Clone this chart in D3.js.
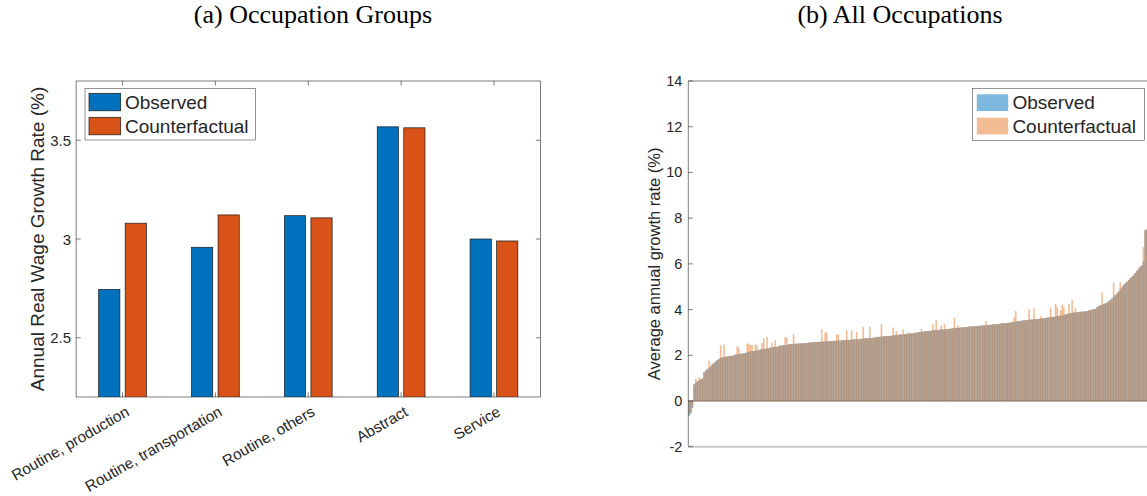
<!DOCTYPE html>
<html><head><meta charset="utf-8">
<script src="https://cdn.jsdelivr.net/npm/d3@7"></script>
<style>
body{margin:0;background:#fff}
svg{display:block}
text{font-family:"Liberation Sans",Arial,Helvetica,sans-serif;fill:#262626}
.ttl{font-family:"Liberation Serif","Times New Roman",serif;fill:#000}
</style>
</head><body><svg id="c" width="1147" height="496"></svg>
<script>
// ---------- data: panel (a) ----------
const groupCategories = ["Routine, production","Routine, transportation","Routine, others","Abstract","Service"];
const groupObserved = [2.745, 2.958, 3.118, 3.568, 3.0];
const groupCounterfactual = [3.08, 3.122, 3.107, 3.563, 2.99];
const groupYTicks = [2.5, 3, 3.5];
const groupYTickLabels = ["2.5", "3", "3.5"];
const seriesNames = ["Observed", "Counterfactual"];

// ---------- data: panel (b), occupations sorted by observed growth ----------
const occObserved = [
-0.65,-0.55,-0.3,0.72,0.78,0.85,0.9,0.95,0.98,1.26,
1.32,1.38,1.44,1.52,1.6,1.66,1.72,1.78,1.84,1.88,
1.9,1.92,1.93,1.94,1.95,1.96,1.97,1.99,2.02,2.04,
2.05,2.06,2.07,2.08,2.1,2.12,2.14,2.16,2.17,2.18,
2.19,2.2,2.21,2.25,2.26,2.27,2.28,2.29,2.3,2.33,
2.34,2.35,2.36,2.37,2.38,2.41,2.42,2.43,2.44,2.45,
2.46,2.48,2.49,2.49,2.5,2.5,2.51,2.51,2.52,2.52,
2.53,2.53,2.54,2.55,2.56,2.56,2.57,2.57,2.58,2.58,
2.59,2.59,2.6,2.6,2.61,2.61,2.62,2.62,2.63,2.63,
2.64,2.64,2.65,2.65,2.66,2.66,2.67,2.67,2.68,2.68,
2.69,2.69,2.7,2.7,2.72,2.73,2.73,2.74,2.74,2.75,
2.75,2.76,2.77,2.78,2.8,2.8,2.81,2.82,2.82,2.83,
2.84,2.84,2.85,2.86,2.88,2.88,2.89,2.9,2.9,2.91,
2.92,2.92,2.93,2.94,2.95,2.96,2.97,2.98,3.0,3.01,
3.02,3.03,3.04,3.05,3.05,3.06,3.07,3.08,3.09,3.1,
3.1,3.11,3.12,3.12,3.13,3.14,3.14,3.15,3.16,3.17,
3.18,3.19,3.2,3.2,3.21,3.22,3.22,3.23,3.24,3.25,
3.25,3.26,3.26,3.27,3.27,3.28,3.29,3.29,3.3,3.31,
3.32,3.32,3.33,3.34,3.34,3.35,3.36,3.37,3.38,3.39,
3.39,3.4,3.41,3.42,3.43,3.44,3.46,3.47,3.48,3.49,
3.5,3.51,3.52,3.53,3.54,3.55,3.55,3.56,3.57,3.57,
3.58,3.59,3.6,3.61,3.62,3.63,3.64,3.65,3.66,3.67,
3.68,3.69,3.71,3.72,3.73,3.74,3.76,3.78,3.8,3.82,
3.83,3.85,3.86,3.87,3.88,3.89,3.9,3.9,3.91,3.92,
3.93,3.95,3.97,3.99,4.0,4.02,4.1,4.15,4.18,4.2,
4.23,4.26,4.3,4.35,4.41,4.48,4.55,4.62,4.7,4.78,
4.88,4.97,5.07,5.14,5.21,5.28,5.36,5.43,5.5,5.6,
5.69,5.78,5.87,5.92,6.1,7.46,7.5,8.6,10.2,12.3
];
const occCounterfactual = [
-0.6,-0.5,-0.25,0.72,0.97,0.85,1.04,0.95,0.98,1.26,
1.32,1.38,1.75,1.52,1.6,1.66,1.72,1.78,1.84,2.43,
1.9,2.46,1.93,1.94,1.95,1.96,1.97,1.99,2.02,2.39,
2.33,2.06,2.07,2.05,2.1,2.51,2.49,2.43,2.45,2.18,
2.46,2.43,2.21,2.25,2.53,2.73,2.28,2.8,2.3,2.33,
2.53,2.35,2.65,2.37,2.38,2.43,2.42,2.43,2.8,2.76,
2.46,2.48,2.49,2.92,2.5,2.5,2.51,2.51,2.52,2.52,
2.53,2.53,2.54,2.55,2.56,2.56,2.57,2.57,2.58,2.58,
3.13,2.59,2.99,2.99,2.61,2.61,2.62,2.62,2.63,2.9,
2.9,2.64,2.65,2.65,2.66,3.09,2.67,2.67,3.09,2.68,
2.69,3.02,2.7,2.7,2.72,3.24,2.73,2.74,2.74,3.24,
2.75,2.76,2.77,2.78,2.8,2.8,3.36,2.82,2.82,2.83,
2.84,2.84,2.85,3.2,2.88,3.05,2.89,2.9,2.9,3.12,
2.9,2.92,3.0,2.94,2.95,2.96,2.97,2.98,3.0,3.01,
3.15,3.03,3.04,3.05,3.05,3.06,3.07,3.36,3.09,3.53,
3.1,3.11,3.3,3.12,3.36,3.14,3.14,3.15,3.16,3.17,
3.63,3.19,3.3,3.2,3.21,3.22,3.22,3.23,3.24,3.25,
3.25,3.26,3.26,3.27,3.27,3.28,3.29,3.29,3.3,3.49,
3.32,3.32,3.33,3.34,3.34,3.35,3.36,3.37,3.38,3.39,
3.39,3.4,3.41,3.42,3.43,3.44,3.67,3.93,3.48,3.49,
3.47,3.51,3.52,3.53,3.54,4.0,3.55,3.56,4.05,3.57,
3.58,3.59,3.7,3.61,3.6,3.63,3.64,3.65,4.09,3.67,
3.68,4.24,4.1,3.72,3.95,4.2,4.1,3.78,3.8,4.24,
3.83,4.41,3.86,4.05,3.88,3.89,3.9,3.9,3.91,3.92,
3.93,3.95,3.97,3.99,4.0,4.02,4.1,4.15,4.18,4.74,
4.23,4.26,4.3,4.35,4.41,4.48,5.17,4.62,4.7,4.78,
5.19,4.97,5.07,5.14,5.21,5.28,5.36,5.43,5.5,5.6,
5.69,5.78,5.87,5.92,6.73,7.46,7.5,8.6,10.2,12.3
];
const occYTicks = [-2, 0, 2, 4, 6, 8, 10, 12, 14];

const titles = ["(a) Occupation Groups", "(b) All Occupations"];
const yLabels = ["Annual Real Wage Growth Rate (%)", "Average annual growth rate (%)"];

// ---------- drawing ----------
const svg = d3.select("#c");
const defs = svg.append("defs");
const axisCol = "#262626";
const blue = "#0072BD", orange = "#D95319";
const blueB = "#0072BD", orangeB = "#E8792A";

// ===== Panel (a) =====
(function(){
  const L = 76.1, R = 540.4, T = 81, B = 397;
  const x = d3.scaleLinear().domain([0.5, groupCategories.length + 0.5]).range([L, R]);
  const y = d3.scaleLinear().domain([2.2, 3.8]).range([B, T]);
  const g = svg.append("g");
  defs.append("clipPath").attr("id","clipA").append("rect").attr("x",L).attr("y",T).attr("width",R-L).attr("height",B-T);

  const groupWidth = Math.min(0.8, 2 / 3.5);
  const barW = groupWidth / 2 * 0.8;
  const offs = [-groupWidth/4, groupWidth/4];
  const series = [groupObserved, groupCounterfactual];
  const cols = [blue, orange];
  const bars = g.append("g").attr("clip-path","url(#clipA)");
  series.forEach((vals, s) => {
    bars.selectAll(null).data(vals).enter().append("rect")
      .attr("x", (d,i) => x(i + 1 + offs[s] - barW/2))
      .attr("width", x(1 + barW) - x(1))
      .attr("y", d => y(d))
      .attr("height", d => y(2.2) - y(d) + 2)
      .attr("fill", cols[s])
      .attr("stroke", "#1a1a1a").attr("stroke-width", 0.7);
  });

  g.append("rect").attr("x",L).attr("y",T).attr("width",R-L).attr("height",B-T)
    .attr("fill","none").attr("stroke",axisCol).attr("stroke-width",0.6);
  const tl = 4.6;
  groupYTicks.forEach((t,k) => {
    g.append("line").attr("x1",L).attr("x2",L+tl).attr("y1",y(t)).attr("y2",y(t)).attr("stroke",axisCol).attr("stroke-width",0.6);
    g.append("line").attr("x1",R).attr("x2",R-tl).attr("y1",y(t)).attr("y2",y(t)).attr("stroke",axisCol).attr("stroke-width",0.6);
    g.append("text").attr("x",L-5).attr("y",y(t)).attr("text-anchor","end").attr("dominant-baseline","central")
      .attr("font-size",15).text(groupYTickLabels[k]);
  });
  groupCategories.forEach((c,i) => {
    const xx = x(i+1);
    g.append("line").attr("x1",xx).attr("x2",xx).attr("y1",B).attr("y2",B-tl).attr("stroke",axisCol).attr("stroke-width",0.6);
    g.append("line").attr("x1",xx).attr("x2",xx).attr("y1",T).attr("y2",T+tl).attr("stroke",axisCol).attr("stroke-width",0.6);
    g.append("text").attr("transform",`translate(${xx+5},${B+13}) rotate(-30)`)
      .attr("text-anchor","end").attr("dominant-baseline","central").attr("font-size",15.3).text(c);
  });
  g.append("text").attr("transform",`translate(37.5,${(T+B)/2}) rotate(-90)`)
    .attr("text-anchor","middle").attr("dominant-baseline","central").attr("font-size",19).text(yLabels[0]);
  svg.append("text").attr("class","ttl").attr("x",313).attr("y",22.5).attr("text-anchor","middle")
    .attr("font-size",26).text(titles[0]);
  const lg = g.append("g");
  lg.append("rect").attr("x",85).attr("y",88.3).attr("width",170.7).attr("height",51.7)
    .attr("fill","#fff").attr("stroke",axisCol).attr("stroke-width",0.5);
  seriesNames.forEach((n,k) => {
    const yy = [93.3,117.3][k];
    lg.append("rect").attr("x",89).attr("y",yy).attr("width",31.7).attr("height",17.5)
      .attr("fill",cols[k]).attr("stroke","#1a1a1a").attr("stroke-width",0.7);
    lg.append("text").attr("x",125).attr("y",yy+8.9).attr("dominant-baseline","central")
      .attr("font-size",19).attr("fill","#000").text(n);
  });
})();

// ===== Panel (b) =====
(function(){
  const L = 688.3, R = 1152.6, T = 81, B = 446.7;
  const n = occObserved.length;
  const x = d3.scaleLinear().domain([0.5, n + 0.5]).range([L, R]);
  const y = d3.scaleLinear().domain([-2, 14]).range([B, T]);
  const g = svg.append("g");
  defs.append("clipPath").attr("id","clipB").append("rect").attr("x",L).attr("y",T).attr("width",R-L).attr("height",B-T);
  const bw = x(1.8) - x(1);
  const bars = g.append("g").attr("clip-path","url(#clipB)");
  const series = [occObserved, occCounterfactual];
  const cols = [blueB, orangeB];
  series.forEach((vals, s) => {
    bars.selectAll(null).data(vals).enter().append("rect")
      .attr("x", (d,i) => x(i + 1) - bw/2)
      .attr("width", bw)
      .attr("y", d => Math.min(y(d), y(0)))
      .attr("height", d => Math.abs(y(0) - y(d)))
      .attr("fill", cols[s]).attr("fill-opacity", 0.5)
      .attr("stroke", cols[s]).attr("stroke-opacity", 0.2).attr("stroke-width", 0.4);
  });
  g.append("line").attr("x1",L).attr("x2",R).attr("y1",y(0)).attr("y2",y(0))
    .attr("stroke","#8c7058").attr("stroke-width",1);
  g.append("line").attr("x1",L).attr("x2",R).attr("y1",T).attr("y2",T).attr("stroke",axisCol).attr("stroke-width",0.6);
  g.append("line").attr("x1",L).attr("x2",L).attr("y1",T).attr("y2",B).attr("stroke",axisCol).attr("stroke-width",0.6);
  g.append("line").attr("x1",R).attr("x2",R).attr("y1",T).attr("y2",B).attr("stroke",axisCol).attr("stroke-width",0.6);
  g.append("line").attr("x1",L).attr("x2",R).attr("y1",B).attr("y2",B).attr("stroke","#c8c8c8").attr("stroke-width",2);
  const tl = 4.6;
  occYTicks.forEach(t => {
    g.append("line").attr("x1",L).attr("x2",L+tl).attr("y1",y(t)).attr("y2",y(t)).attr("stroke",axisCol).attr("stroke-width",0.6);
    g.append("line").attr("x1",R).attr("x2",R-tl).attr("y1",y(t)).attr("y2",y(t)).attr("stroke",axisCol).attr("stroke-width",0.6);
    g.append("text").attr("x",L-6).attr("y",y(t)).attr("text-anchor","end").attr("dominant-baseline","central")
      .attr("font-size",14.5).text(t);
  });
  g.append("text").attr("transform",`translate(654,${(T+B)/2}) rotate(-90)`)
    .attr("text-anchor","middle").attr("dominant-baseline","central").attr("font-size",16.5).text(yLabels[1]);
  svg.append("text").attr("class","ttl").attr("x",900).attr("y",22.5).attr("text-anchor","middle")
    .attr("font-size",26).text(titles[1]);
  const lg = g.append("g");
  lg.append("rect").attr("x",972.3).attr("y",88.3).attr("width",172).attr("height",52)
    .attr("fill","#fff").attr("stroke",axisCol).attr("stroke-width",0.5);
  seriesNames.forEach((nm,k) => {
    const yy = [94.3,117.7][k];
    lg.append("rect").attr("x",976.8).attr("y",yy).attr("width",31.4).attr("height",16.7)
      .attr("fill",cols[k]).attr("fill-opacity",0.5);
    lg.append("text").attr("x",1012.4).attr("y",yy+8.4).attr("dominant-baseline","central")
      .attr("font-size",19).attr("fill","#000").text(nm);
  });
})();
</script>
</body></html>
